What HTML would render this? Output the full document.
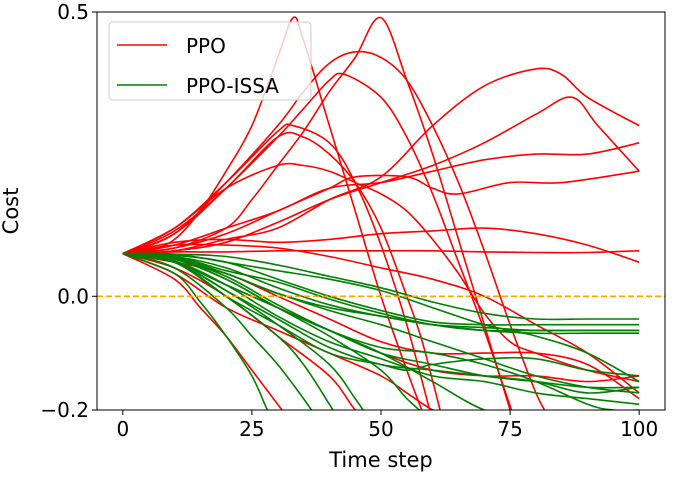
<!DOCTYPE html>
<html><head><meta charset="utf-8">
<style>
html,body{margin:0;padding:0;background:#fff;}
svg{display:block;font-family:"DejaVu Sans","Liberation Sans",sans-serif;}
</style></head>
<body>
<svg id="chart" width="676" height="480" viewBox="0 0 676 480" xmlns="http://www.w3.org/2000/svg">
<defs><clipPath id="clip"><rect x="97" y="12" width="568" height="398"/></clipPath></defs>
<g id="series" clip-path="url(#clip)"></g>
<line id="zline" stroke="#ffa500" stroke-width="1.6" stroke-dasharray="6,3"/>
<rect x="97" y="12" width="568" height="398" fill="none" stroke="#000" stroke-width="1"/>
<g id="axes"></g>
<text x="381" y="467" font-size="21" text-anchor="middle">Time step</text>
<text x="0" y="0" font-size="21" text-anchor="middle" transform="translate(18,211) rotate(-90)">Cost</text>
<g>
<rect x="109" y="22" width="202" height="78" rx="4" fill="#fff" fill-opacity="0.8" stroke="#ccc"/>
<line x1="117" y1="45" x2="167" y2="45" stroke="#ff0000" stroke-width="1.6"/>
<text x="186" y="53" font-size="20">PPO</text>
<line x1="117" y1="85" x2="167" y2="85" stroke="#008000" stroke-width="1.6"/>
<text x="186" y="93" font-size="20">PPO-ISSA</text>
</g>
</svg>
<script>
const xTicks=[0,25,50,75,100];
const yTicks=[0.5,0.0,-0.2];
const yTickLabels=["0.5","0.0","\u22120.2"];
// Each series: flattened [t, value, t, value, ...]
const redSeries=[
[0,.075,5,.08,10,.1,15,.15,20,.22,25,.3,30,.42,33,.49,35,.45,40,.3,45,.15,50,0,55,-.13,60,-.25],
[0,.075,10,.085,20,.12,25,.17,30,.23,35,.29,40,.36,45,.42,50,.49,55,.38,60,.25,65,.1,70,-.05,75,-.2],
[0,.075,10,.11,20,.2,30,.3,35,.36,40,.41,45,.43,50,.42,55,.38,60,.3,65,.2,70,.08,75,-.05,80,-.17,83,-.22],
[0,.075,10,.11,20,.19,30,.28,35,.33,40,.38,43,.39,50,.35,55,.28,60,.18,65,.06,70,-.06,76,-.22],
[0,.075,10,.12,20,.2,30,.29,33,.3,40,.27,45,.2,50,.09,55,-.05,60,-.22],
[0,.075,10,.115,20,.19,30,.28,35,.28,40,.25,45,.2,50,.12,55,0,58,-.08,62,-.22],
[0,.075,10,.12,20,.19,30,.23,35,.23,40,.22,45,.2,50,.18,55,.15,60,.1,65,.04,70,-.03,75,-.08,80,-.1,90,-.13,100,-.15],
[0,.075,10,.08,20,.1,30,.12,40,.17,50,.21,60,.3,70,.37,80,.4,85,.39,90,.35,100,.3],
[0,.075,10,.08,20,.095,30,.13,40,.17,50,.2,60,.23,70,.27,80,.32,87,.35,92,.3,100,.22],
[0,.075,10,.09,20,.12,30,.15,40,.19,50,.2,60,.22,70,.24,80,.25,90,.25,100,.27],
[0,.075,10,.085,20,.11,30,.15,40,.19,45,.21,55,.21,60,.19,65,.18,75,.2,85,.2,100,.22],
[0,.075,10,.095,20,.1,30,.095,40,.1,50,.11,60,.115,70,.12,80,.11,90,.09,100,.06],
[0,.075,10,.078,20,.078,30,.08,40,.08,50,.08,60,.08,70,.078,80,.077,90,.077,100,.08],
[0,.075,10,.09,20,.09,30,.085,40,.07,50,.05,60,.03,70,.0,80,-.05,90,-.1,100,-.17],
[0,.075,10,.03,15,-.02,20,-.07,25,-.13,30,-.19,35,-.25],
[0,.075,10,.04,20,-.02,30,-.06,40,-.1,50,-.14,55,-.17,60,-.2,70,-.25],
[0,.075,10,.06,20,.02,30,-.02,40,-.06,50,-.1,60,-.13,70,-.14,80,-.14,90,-.15,100,-.14],
[0,.075,10,.06,20,.04,30,.0,40,-.04,50,-.08,60,-.1,70,-.1,80,-.1,90,-.12,100,-.18],
[0,.075,10,.05,20,0,30,-.07,40,-.14,45,-.2,50,-.25]
];
const greenSeries=[
[0,.075,10,.04,15,-.01,20,-.07,25,-.14,28,-.2,30,-.23],
[0,.075,10,.05,20,-.02,25,-.07,30,-.12,35,-.18,38,-.22],
[0,.075,10,.06,20,.0,30,-.07,35,-.12,40,-.19,42,-.22],
[0,.075,10,.06,20,.01,30,-.05,40,-.12,45,-.18,48,-.22],
[0,.075,10,.065,20,.03,30,-.02,40,-.07,50,-.13,55,-.18,60,-.22],
[0,.075,10,.074,20,.07,30,.055,40,.035,50,.015,60,-.01,70,-.03,80,-.04,90,-.04,100,-.04],
[0,.075,10,.072,20,.06,30,.03,40,0,50,-.025,60,-.045,70,-.05,80,-.05,90,-.05,100,-.05],
[0,.075,10,.07,20,.05,30,.015,40,-.015,50,-.035,60,-.05,70,-.055,80,-.06,90,-.06,100,-.06],
[0,.075,10,.068,20,.04,30,.005,40,-.02,50,-.035,60,-.05,70,-.06,80,-.065,90,-.065,100,-.065],
[0,.075,10,.07,20,.045,30,.025,40,-.005,50,-.03,60,-.05,70,-.06,80,-.06,90,-.06,100,-.06],
[0,.075,10,.066,20,.03,30,-.02,40,-.06,50,-.1,60,-.12,70,-.14,80,-.15,90,-.16,100,-.16],
[0,.075,10,.06,20,.01,30,-.04,40,-.09,50,-.12,60,-.13,70,-.14,80,-.15,90,-.17,100,-.16],
[0,.075,10,.06,20,.02,30,-.02,40,-.06,50,-.09,60,-.1,70,-.12,80,-.15,90,-.19,95,-.2,100,-.2],
[0,.075,10,.066,20,.04,30,.005,40,-.025,50,-.05,60,-.08,70,-.11,80,-.14,90,-.16,100,-.17],
[0,.075,10,.06,20,0,30,-.05,40,-.1,50,-.12,55,-.13,60,-.12,70,-.11,80,-.11,90,-.13,100,-.14],
[0,.075,10,.066,20,.035,30,-.015,40,-.06,50,-.1,60,-.15,70,-.2,80,-.22],
[0,.075,10,.062,20,.02,30,-.035,40,-.08,50,-.11,60,-.14,70,-.15,80,-.17,90,-.18,100,-.19],
[0,.075,10,.074,20,.06,30,.045,40,.03,50,.01,60,-.02,70,-.05,80,-.07,90,-.1,100,-.15]
];
const X0=97,X1=665,Y0=12,Y1=410;
const xs=t=>X0+(t+5)/110*(X1-X0);
const ys=v=>Y0+(0.5-v)/0.7*(Y1-Y0);
const NS="http://www.w3.org/2000/svg";
function pathFrom(arr){
  const p=[];for(let i=0;i<arr.length;i+=2)p.push([xs(arr[i]),ys(arr[i+1])]);
  let d="M"+p[0][0].toFixed(1)+","+p[0][1].toFixed(1);
  for(let i=0;i<p.length-1;i++){
    const a=p[i-1]||p[i],b=p[i],c=p[i+1],e=p[i+2]||c;
    const c1=[b[0]+(c[0]-a[0])/6,b[1]+(c[1]-a[1])/6],c2=[c[0]-(e[0]-b[0])/6,c[1]-(e[1]-b[1])/6];
    d+=" C"+c1.map(v=>v.toFixed(1))+" "+c2.map(v=>v.toFixed(1))+" "+c[0].toFixed(1)+","+c[1].toFixed(1);
  }
  return d;
}
const g=document.getElementById('series');
function draw(list,color,name){
  list.forEach((s,i)=>{
    const el=document.createElementNS(NS,'path');
    el.setAttribute('d',pathFrom(s));
    el.setAttribute('fill','none');el.setAttribute('stroke',color);el.setAttribute('stroke-width','1.6');
    
    
    g.appendChild(el);
  });
}
draw(redSeries,'#ff0000','ppo');
draw(greenSeries,'#008000','ppo-issa');
const zl=document.getElementById('zline');
zl.setAttribute('x1',X0);zl.setAttribute('x2',X1);zl.setAttribute('y1',ys(0));zl.setAttribute('y2',ys(0));
const ax=document.getElementById('axes');
xTicks.forEach(t=>{
  const l=document.createElementNS(NS,'line');
  l.setAttribute('x1',xs(t));l.setAttribute('x2',xs(t));l.setAttribute('y1',Y1);l.setAttribute('y2',Y1+5);l.setAttribute('stroke','#000');
  
  
  ax.appendChild(l);
  const tx=document.createElementNS(NS,'text');
  tx.setAttribute('x',xs(t));tx.setAttribute('y',Y1+26);tx.setAttribute('font-size','20');tx.setAttribute('text-anchor','middle');
  tx.textContent=t;
  
  
  ax.appendChild(tx);
});
yTicks.forEach((v,i)=>{
  const l=document.createElementNS(NS,'line');
  l.setAttribute('x1',X0-5);l.setAttribute('x2',X0);l.setAttribute('y1',ys(v));l.setAttribute('y2',ys(v));l.setAttribute('stroke','#000');
  
  
  ax.appendChild(l);
  const tx=document.createElementNS(NS,'text');
  tx.setAttribute('x',X0-8);tx.setAttribute('y',ys(v)+7);tx.setAttribute('font-size','20');tx.setAttribute('text-anchor','end');
  tx.textContent=yTickLabels[i];
  
  
  ax.appendChild(tx);
});
</script>
</body></html>
